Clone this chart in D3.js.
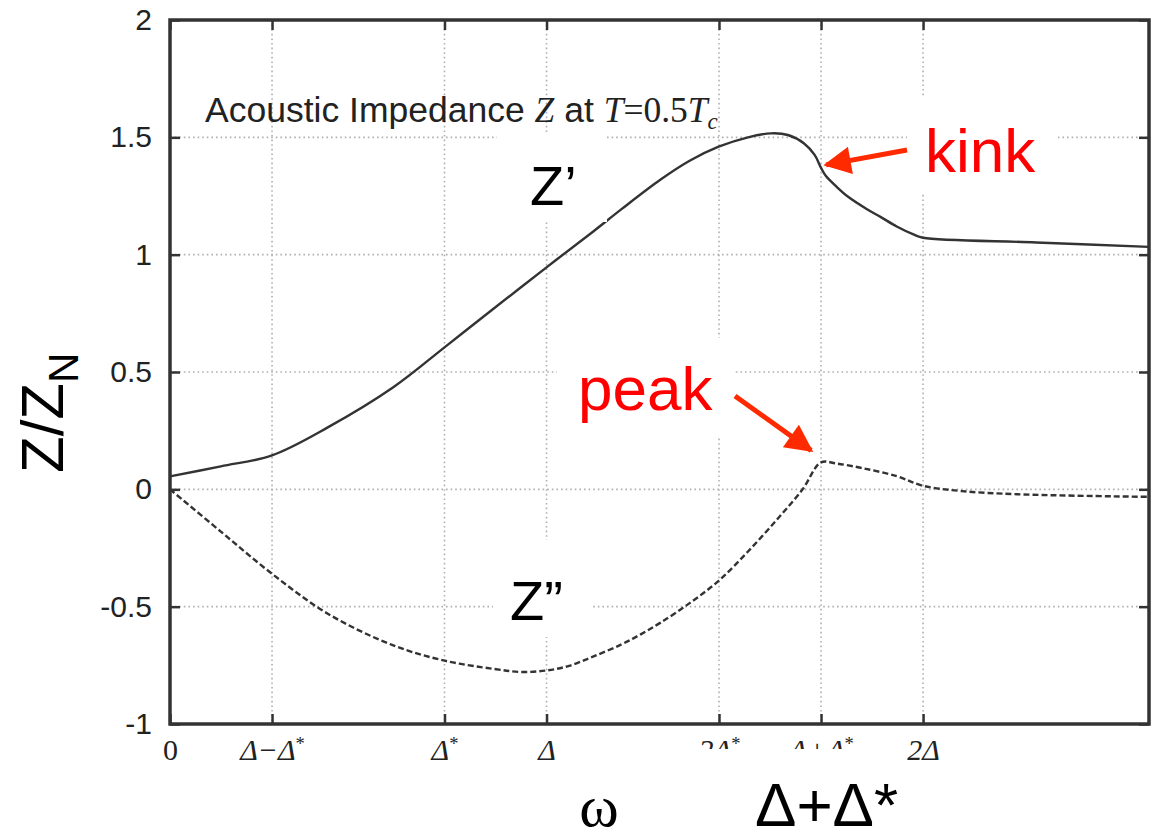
<!DOCTYPE html>
<html>
<head>
<meta charset="utf-8">
<script src="https://cdn.jsdelivr.net/npm/d3@7"></script>
<style>
	body { margin:0; background:#fff; }
	svg { display:block; }
</style>
</head>
<body>
<div id="chart"></div>
<script>
// ---------------------------------------------------------------
// data (omega in units of Delta)
var xTickVals   = [0, 0.271, 0.729, 1, 1.458, 1.729, 2];
var xTickLabels = ['0', 'Δ−Δ*', 'Δ*', 'Δ', '2Δ*', 'Δ+Δ*', '2Δ'];
var yTickVals   = [-1, -0.5, 0, 0.5, 1, 1.5, 2];
var yTickLabels = ['-1', '-0.5', '0', '0.5', '1', '1.5', '2'];

// Z' (real part)
var omegaRe = [0, 0.135, 0.271, 0.419, 0.593, 0.729, 0.854, 1.0, 1.125, 1.2, 1.303, 1.38, 1.457,
	1.535, 1.596, 1.641, 1.684, 1.712, 1.729, 1.742, 1.77, 1.80, 1.85, 1.888, 1.93, 1.976, 2.0, 2.3, 2.6];
var zRe     = [0.055, 0.098, 0.145, 0.264, 0.435, 0.605, 0.763, 0.946, 1.10, 1.195, 1.32, 1.40, 1.46,
	1.50, 1.517, 1.51, 1.474, 1.425, 1.37, 1.335, 1.29, 1.248, 1.195, 1.16, 1.12, 1.085, 1.072, 1.052, 1.033];

// Z'' (imaginary part)
var omegaIm = [0, 0.135, 0.271, 0.419, 0.593, 0.729, 0.859, 0.93, 1.0, 1.06, 1.125, 1.2, 1.25, 1.303,
	1.38, 1.457, 1.535, 1.614, 1.68, 1.729, 1.77, 1.84, 1.93, 2.0, 2.1, 2.25, 2.6];
var zIm     = [0, -0.18, -0.36, -0.53, -0.665, -0.73, -0.765, -0.778, -0.772, -0.752, -0.712, -0.66, -0.618, -0.568,
	-0.485, -0.39, -0.265, -0.125, 0.0, 0.115, 0.11, 0.09, 0.056, 0.015, -0.007, -0.021, -0.032];

// ---------------------------------------------------------------
var W = 1157, H = 839;
var margin = { left:170, top:20, right:8, bottom:115 };
var pw = W - margin.left - margin.right;
var ph = H - margin.top - margin.bottom;

var x = d3.scaleLinear().domain([0, 2.6]).range([0, pw]);
var y = d3.scaleLinear().domain([-1, 2]).range([ph, 0]);

var svg = d3.select('#chart').append('svg')
	.attr('width', W)
	.attr('height', H);

var g = svg.append('g')
	.attr('transform', 'translate(' + margin.left + ',' + margin.top + ')');

var sans = '"Liberation Sans", Arial, Helvetica, sans-serif';
var serif = '"Liberation Serif", "Times New Roman", serif';

// grid
var grid = g.append('g').attr('class', 'grid');
grid.selectAll('line.v')
	.data(xTickVals.filter(function(d){ return d > 0; }))
	.enter().append('line')
	.attr('class', 'v')
	.attr('x1', function(d){ return x(d); })
	.attr('x2', function(d){ return x(d); })
	.attr('y1', 0).attr('y2', ph);
grid.selectAll('line.h')
	.data(yTickVals.filter(function(d){ return d > -1 && d < 2; }))
	.enter().append('line')
	.attr('class', 'h')
	.attr('x1', 0).attr('x2', pw)
	.attr('y1', function(d){ return y(d); })
	.attr('y2', function(d){ return y(d); });
grid.selectAll('line')
	.attr('stroke', '#b0b0b0')
	.attr('stroke-width', 1.6)
	.attr('stroke-dasharray', '1.6,3');

// curves
var line = d3.line()
	.x(function(d){ return x(d[0]); })
	.y(function(d){ return y(d[1]); })
	.curve(d3.curveCatmullRom.alpha(0.5));

g.append('path')
	.datum(d3.zip(omegaRe, zRe))
	.attr('d', line)
	.attr('fill', 'none')
	.attr('stroke', '#333')
	.attr('stroke-width', 2.4);

g.append('path')
	.datum(d3.zip(omegaIm, zIm))
	.attr('d', line)
	.attr('fill', 'none')
	.attr('stroke', '#333')
	.attr('stroke-width', 2.4)
	.attr('stroke-dasharray', '6,3');

// white label boxes (page coords)
var boxes = [
	[497, 132, 110, 90],   // Z'
	[493, 540, 99, 97],    // Z''
	[557, 338, 177, 99],   // peak
	[907, 97, 151, 95]     // kink
];
svg.selectAll('rect.box')
	.data(boxes)
	.enter().append('rect')
	.attr('class', 'box')
	.attr('x', function(d){ return d[0]; })
	.attr('y', function(d){ return d[1]; })
	.attr('width', function(d){ return d[2]; })
	.attr('height', function(d){ return d[3]; })
	.attr('fill', '#fff');

// axes with inward ticks
function fmtLabel(sel, labels, vals){
	sel.each(function(d){
		var t = d3.select(this);
		var lab = labels[vals.indexOf(d)];
		t.text(null);
		var parts = lab.split('*');
		t.append('tspan').text(parts[0]);
		if( parts.length > 1 ){
			t.append('tspan')
				.attr('font-size', '0.62em')
				.attr('dy', '-0.55em')
				.attr('font-style', 'normal')
				.text('*');
		};
	});
};

var xAxis = g.append('g')
	.attr('transform', 'translate(0,' + ph + ')')
	.call(d3.axisBottom(x).tickValues(xTickVals).tickSizeInner(-10).tickSizeOuter(0).tickPadding(15));
xAxis.selectAll('text')
	.attr('font-family', serif)
	.attr('font-size', 30)
	.attr('font-style', function(d){ return d === 0 ? 'normal' : 'italic'; })
	.attr('fill', '#222')
	.call(fmtLabel, xTickLabels, xTickVals);

g.append('g')
	.call(d3.axisTop(x).tickValues(xTickVals).tickSizeInner(-10).tickSizeOuter(0).tickFormat(''));

var yAxis = g.append('g')
	.call(d3.axisLeft(y).tickValues(yTickVals).tickSizeInner(-10).tickSizeOuter(0).tickPadding(18)
		.tickFormat(function(d){ return yTickLabels[yTickVals.indexOf(d)]; }));
yAxis.selectAll('text')
	.attr('font-family', sans)
	.attr('font-size', 30)
	.attr('fill', '#222');

g.append('g')
	.attr('transform', 'translate(' + pw + ',0)')
	.call(d3.axisRight(y).tickValues(yTickVals).tickSizeInner(-10).tickSizeOuter(0).tickFormat(''));

g.selectAll('.domain').remove();
g.selectAll('.tick line').attr('stroke', '#333').attr('stroke-width', 2.5);

// frame
g.append('rect')
	.attr('width', pw).attr('height', ph)
	.attr('fill', 'none')
	.attr('stroke', '#333')
	.attr('stroke-width', 3.5);

// title
var title = g.append('text')
	.attr('x', 35).attr('y', 102)
	.attr('font-family', sans)
	.attr('font-size', 35.5)
	.attr('fill', '#222');
title.append('tspan').text('Acoustic Impedance ');
title.append('tspan').attr('font-family', serif).attr('font-style', 'italic').text('Z');
title.append('tspan').text(' at ');
title.append('tspan').attr('font-family', serif).attr('font-style', 'italic').text('T');
title.append('tspan').attr('font-family', serif).text('=0.5');
title.append('tspan').attr('font-family', serif).attr('font-style', 'italic').text('T');
title.append('tspan').attr('font-family', serif).attr('font-style', 'italic')
	.attr('font-size', 23).attr('dy', 7).text('c');

// cover the crowded tick labels, then the big label
svg.append('rect')
	.attr('x', 694).attr('y', 749).attr('width', 206).attr('height', 90)
	.attr('fill', '#fff');

svg.append('text')
	.attr('x', 755).attr('y', 826)
	.attr('font-family', sans)
	.attr('font-size', 62)
	.attr('fill', '#000')
	.text('Δ+Δ*');

svg.append('text')
	.attr('x', 599).attr('y', 826)
	.attr('text-anchor', 'middle')
	.attr('font-family', serif)
	.attr('font-size', 60)
	.attr('fill', '#000')
	.text('ω');

// y label
var yl = svg.append('text')
	.attr('transform', 'translate(63,473) rotate(-90)')
	.attr('font-family', sans)
	.attr('font-size', 60)
	.attr('fill', '#000');
yl.append('tspan').text('Z/Z');
yl.append('tspan').attr('font-size', 42).attr('dy', 15).text('N');

// curve labels
svg.append('text')
	.attr('x', 530).attr('y', 205)
	.attr('font-family', sans).attr('font-size', 56).attr('fill', '#000')
	.text('Z’');
svg.append('text')
	.attr('x', 510).attr('y', 620)
	.attr('font-family', sans).attr('font-size', 56).attr('fill', '#000')
	.text('Z”');

// annotations
svg.append('text')
	.attr('x', 925).attr('y', 172)
	.attr('font-family', sans).attr('font-size', 62).attr('fill', '#ff0000')
	.text('kink');
svg.append('text')
	.attr('x', 578).attr('y', 410)
	.attr('font-family', sans).attr('font-size', 62).attr('fill', '#ff0000')
	.text('peak');

var defs = svg.append('defs');
defs.append('marker')
	.attr('id', 'arrowHead')
	.attr('viewBox', '0 0 10 10')
	.attr('refX', 9).attr('refY', 5)
	.attr('markerWidth', 6).attr('markerHeight', 5.5)
	.attr('markerUnits', 'strokeWidth')
	.attr('orient', 'auto')
	.append('path')
	.attr('d', 'M0,0 L10,5 L0,10 Z')
	.attr('fill', '#ff2a00');

// arrows: tail in page coords, tip near the data point
var arrows = [
	{ x0: 907, y0: 150, tx: 1.729, ty: 1.37, dx: 5, dy: -3 },
	{ x0: 735, y0: 396, tx: 1.729, ty: 0.115, dx: -10, dy: -12 }
];
svg.selectAll('line.arrow')
	.data(arrows)
	.enter().append('line')
	.attr('class', 'arrow')
	.attr('x1', function(d){ return d.x0; })
	.attr('y1', function(d){ return d.y0; })
	.attr('x2', function(d){ return margin.left + x(d.tx) + d.dx; })
	.attr('y2', function(d){ return margin.top + y(d.ty) + d.dy; })
	.attr('stroke', '#ff2a00')
	.attr('stroke-width', 5)
	.attr('marker-end', 'url(#arrowHead)');
</script>
</body>
</html>
